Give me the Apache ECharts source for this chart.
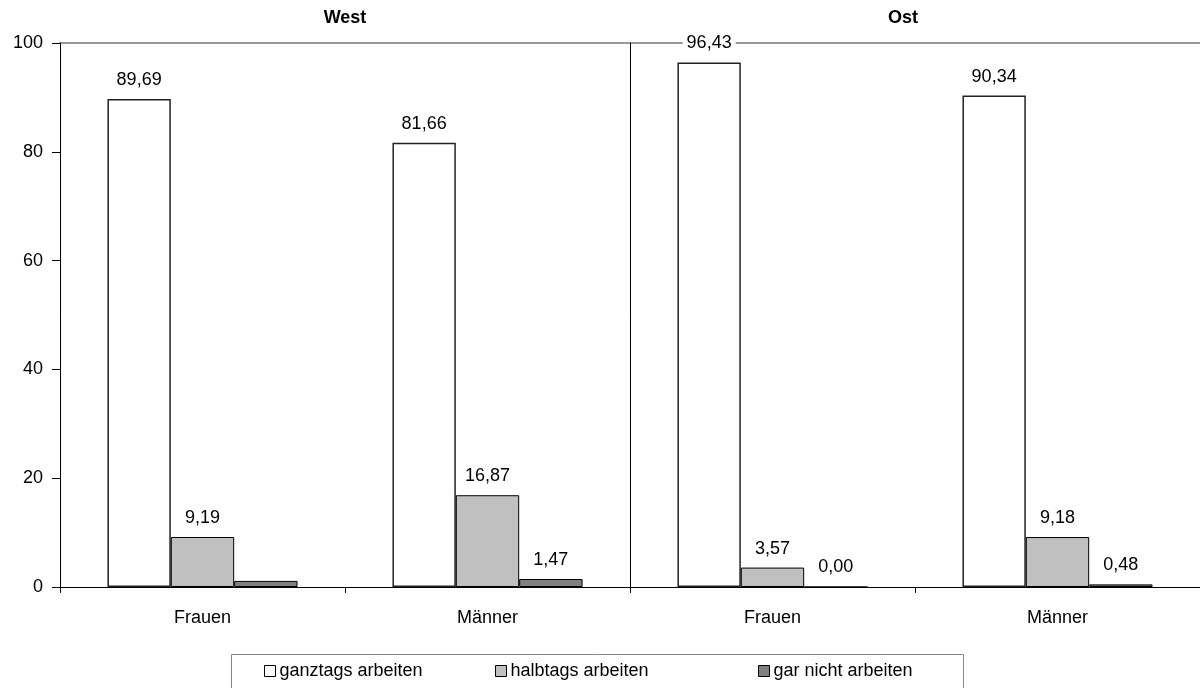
<!DOCTYPE html>
<html>
<head>
<meta charset="utf-8">
<script src="https://cdn.jsdelivr.net/npm/echarts@6/dist/echarts.min.js"></script>
<style>
html,body{margin:0;padding:0;background:#fff;}
#chart{width:1200px;height:688px;}
</style>
</head>
<body>
<div id="chart"></div>
<script>
// ---- data ----
const panels = ['West', 'Ost'];
const categories = ['Frauen', 'Männer'];
const seriesNames = ['ganztags arbeiten', 'halbtags arbeiten', 'gar nicht arbeiten'];
// values per panel: [Frauen, Männer]
const westGanztags = [89.69, 81.66];
const westHalbtags = [9.19, 16.87];
const westGarNicht = [1.12, 1.47];
const ostGanztags = [96.43, 90.34];
const ostHalbtags = [3.57, 9.18];
const ostGarNicht = [0.00, 0.48];
const westGarNichtLabelShown = [false, true];
const yTicks = [0, 20, 40, 60, 80, 100];

const FONT = '"Liberation Sans", Arial, sans-serif';
const FS = 18;
const chart = echarts.init(document.getElementById('chart'), null, {renderer: 'canvas'});

const fmt = p => p.value.toFixed(2).replace('.', ',');
const labelStyle = {
  show: true, position: 'top', distance: 10, formatter: fmt,
  fontFamily: FONT, fontSize: FS, color: '#000',
  backgroundColor: '#fff', padding: [0, 4, 0, 4]
};

const styles = [
  {color: '#ffffff', borderColor: '#222', borderWidth: 1.5},
  {color: '#c0c0c0', borderColor: '#000', borderWidth: 1},
  {color: '#808080', borderColor: '#000', borderWidth: 1}
];
const panelValues = [
  [westGanztags, westHalbtags, westGarNicht],
  [ostGanztags, ostHalbtags, ostGarNicht]
];

const series = [];
panelValues.forEach((vals3, pi) => {
  vals3.forEach((vals, si) => {
    series.push({
      name: seriesNames[si],
      type: 'bar',
      xAxisIndex: pi * 2,
      yAxisIndex: pi,
      barGap: 0,
      barCategoryGap: '33.3%',
      itemStyle: styles[si],
      label: labelStyle,
      emphasis: {disabled: true},
      data: vals.map((v, i) => (pi === 0 && si === 2 && !westGarNichtLabelShown[i]) ? {value: v, label: {show: false}} : v)
    });
  });
});

const legendLefts = [264, 495, 758];
const legends = seriesNames.map((n, i) => ({
  data: [n],
  left: legendLefts[i],
  top: 662,
  padding: 0,
  itemWidth: 11,
  itemHeight: 11,
  icon: 'rect',
  itemStyle: {borderColor: '#000', borderWidth: 1},
  textStyle: {fontFamily: FONT, fontSize: FS, color: '#000', padding: [0, 0, 0, -1]},
  selectedMode: false
}));

const grids = [
  {left: 60, width: 570, top: 43, bottom: 101, containLabel: false},
  {left: 630, width: 570, top: 43, bottom: 101, containLabel: false}
];

const xAxes = [];
grids.forEach((g, gi) => {
  xAxes.push({
    type: 'category', data: categories, gridIndex: gi, position: 'bottom',
    axisLine: {lineStyle: {color: '#000', width: 1}},
    axisTick: {show: true, length: 6, lineStyle: {color: '#000'}},
    axisLabel: {margin: 22, fontFamily: FONT, fontSize: FS, color: '#000'},
    splitLine: {show: false}
  });
  xAxes.push({
    type: 'category', data: categories, gridIndex: gi, position: 'top',
    axisLine: {show: true, lineStyle: {color: '#999', width: 2}},
    axisTick: {show: false}, axisLabel: {show: false}, splitLine: {show: false}
  });
});

const yAxes = grids.map((g, gi) => ({
  type: 'value', gridIndex: gi, min: yTicks[0], max: yTicks[yTicks.length - 1], interval: 20,
  axisLine: {show: true, lineStyle: {color: '#000', width: 1}},
  axisTick: {show: gi === 0, length: 8, lineStyle: {color: '#000'}},
  axisLabel: {show: gi === 0, margin: 17, fontFamily: FONT, fontSize: FS, color: '#000'},
  splitLine: {show: false},
  z: gi === 1 ? 5 : 2
}));

const option = {
  animation: false,
  backgroundColor: '#fff',
  title: panels.map((p, i) => ({
    text: p, left: i === 0 ? 345 : 903, top: 9, padding: 0, textAlign: 'center',
    textStyle: {fontFamily: FONT, fontSize: FS, fontWeight: 'bold', color: '#000'}
  })),
  legend: legends,
  grid: grids,
  xAxis: xAxes,
  yAxis: yAxes,
  graphic: [
    {type: 'rect', shape: {x: 231.5, y: 654.5, width: 732, height: 40},
     style: {fill: 'none', stroke: '#888', lineWidth: 1}, silent: true, z: -1}
  ],
  series: series
};
chart.setOption(option);
</script>
</body>
</html>
